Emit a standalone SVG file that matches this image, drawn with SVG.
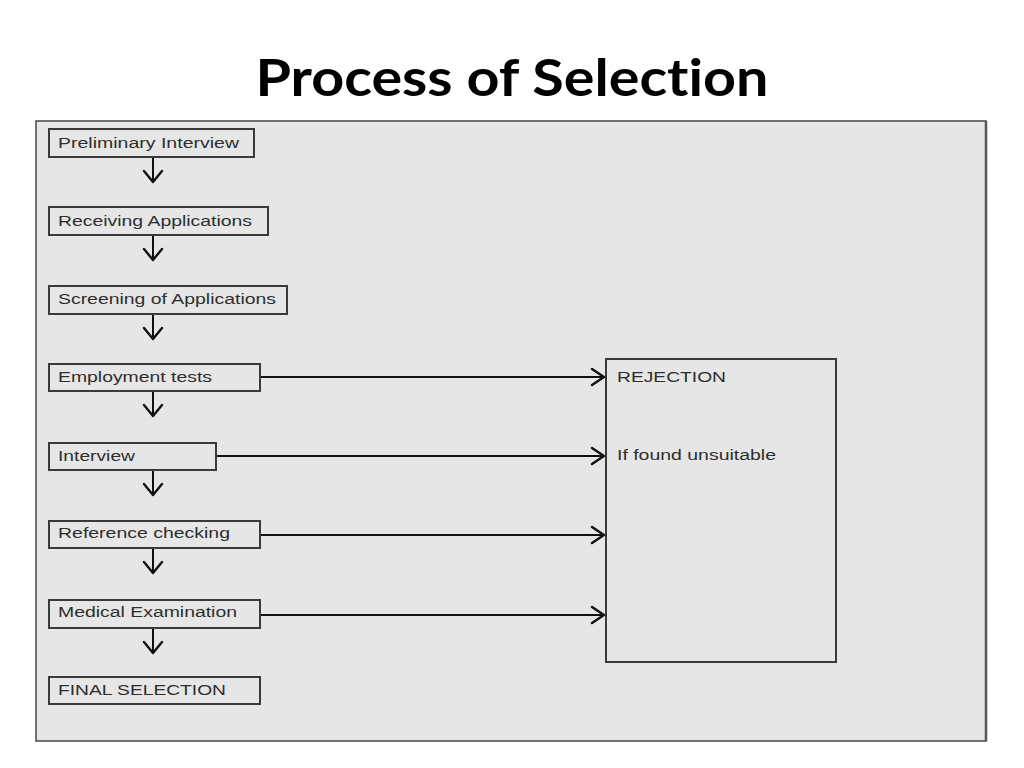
<svg xmlns="http://www.w3.org/2000/svg" width="1024" height="768" viewBox="0 0 1024 768">
<defs>
<style>
.box{fill:#e6e6e6;stroke:#3a3a3a;stroke-width:2}
.t{font-family:"Liberation Sans",Arial,sans-serif;font-size:15.5px;fill:#2e2e2e}
.ln{stroke:#111;stroke-width:2;fill:none}
.hd{stroke:#111;stroke-width:2.4;fill:none;stroke-linecap:round;stroke-linejoin:round}
</style>
</defs>
<rect width="1024" height="768" fill="#fff"/>
<text x="512" y="96" text-anchor="middle" font-family="Lato,'Open Sans',sans-serif" font-weight="bold" font-size="52" fill="#000" style="font-variant-ligatures:none;font-feature-settings:'liga' 0" textLength="513" lengthAdjust="spacingAndGlyphs">Process of Selection</text>
<g id="panel">
<rect x="36" y="121" width="950" height="620" fill="#e6e6e6" stroke="#444" stroke-width="1.5"/>
<line x1="986" y1="121" x2="986" y2="741" stroke="#555" stroke-width="2.5"/>
</g>
<g id="connectors">
<path class="ln" d="M153 157V182M153 235V260M153 314V339M153 391V416M153 470V495M153 548V573M153 628V653"/>
<path class="hd" d="M144 171L153 182L162 171M144 249L153 260L162 249M144 328L153 339L162 328M144 405L153 416L162 405M144 484L153 495L162 484M144 562L153 573L162 562M144 642L153 653L162 642"/>
<path class="ln" d="M260 377H604M216 456H604M260 535H604M260 615H604"/>
<path class="hd" d="M592 369L604 377L592 385M592 448L604 456L592 464M592 527L604 535L592 543M592 607L604 615L592 623"/>
</g>
<g id="n1"><rect class="box" x="49" y="129" width="205" height="28"/><text class="t" x="58" y="148" textLength="181" lengthAdjust="spacingAndGlyphs">Preliminary Interview</text></g>
<g id="n2"><rect class="box" x="49" y="207" width="219" height="28"/><text class="t" x="58" y="226" textLength="194" lengthAdjust="spacingAndGlyphs">Receiving Applications</text></g>
<g id="n3"><rect class="box" x="49" y="286" width="238" height="28"/><text class="t" x="58" y="304" textLength="218" lengthAdjust="spacingAndGlyphs">Screening of Applications</text></g>
<g id="n4"><rect class="box" x="49" y="364" width="211" height="27"/><text class="t" x="58" y="382" textLength="154" lengthAdjust="spacingAndGlyphs">Employment tests</text></g>
<g id="n5"><rect class="box" x="49" y="443" width="167" height="27"/><text class="t" x="58" y="461" textLength="77" lengthAdjust="spacingAndGlyphs">Interview</text></g>
<g id="n6"><rect class="box" x="49" y="521" width="211" height="27"/><text class="t" x="58" y="538" textLength="172" lengthAdjust="spacingAndGlyphs">Reference checking</text></g>
<g id="n7"><rect class="box" x="49" y="600" width="211" height="28"/><text class="t" x="58" y="617" textLength="179" lengthAdjust="spacingAndGlyphs">Medical Examination</text></g>
<g id="n8"><rect class="box" x="49" y="677" width="211" height="27"/><text class="t" x="58" y="695" textLength="168" lengthAdjust="spacingAndGlyphs">FINAL SELECTION</text></g>
<g id="rejection"><rect class="box" x="606" y="359" width="230" height="303"/><text class="t" x="617" y="382" textLength="109" lengthAdjust="spacingAndGlyphs">REJECTION</text><text class="t" x="617" y="460" textLength="159" lengthAdjust="spacingAndGlyphs">If found unsuitable</text></g>
</svg>
